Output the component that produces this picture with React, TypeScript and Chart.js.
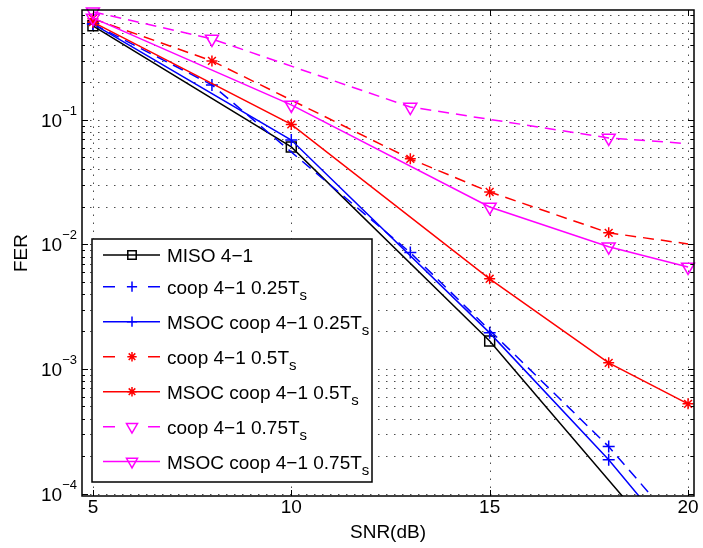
import React, { useEffect, useRef } from 'react';
import { Chart, registerables } from 'chart.js';

Chart.register(...registerables);

// ---------- data ----------
const xTickValues = [5, 10, 15, 20];
const yDecadeValues = [1e-4, 1e-3, 1e-2, 1e-1];
const yDecadeExponents = ['\u22124', '\u22123', '\u22122', '\u22121'];
const xAxisTitle = 'SNR(dB)';
const yAxisTitle = 'FER';

const misoX = [5, 10, 15, 20];
const misoY = [0.57, 0.0607, 0.00168, 2.3e-5];
const misoMarkers = [true, true, true, true];

const coop25X = [5, 8, 13, 18, 20];
const coop25Y = [0.59, 0.191, 0.0086, 2.38e-4, 4.4e-5];
const coop25Markers = [true, true, true, true, false];

const msoc25X = [5, 10, 15, 18, 20];
const msoc25Y = [0.59, 0.069, 0.00195, 1.87e-4, 3.2e-5];
const msoc25Markers = [true, true, true, true, true];

const coop50X = [5, 8, 13, 15, 18, 20];
const coop50Y = [0.65, 0.298, 0.0487, 0.0264, 0.0124, 0.0101];
const coop50Markers = [true, true, true, true, true, false];

const msoc50X = [5, 10, 15, 18, 20];
const msoc50Y = [0.61, 0.092, 0.0053, 0.00112, 0.000525];
const msoc50Markers = [true, true, true, true, true];

const coop75X = [5, 8, 13, 18, 20];
const coop75Y = [0.74, 0.447, 0.127, 0.0717, 0.0645];
const coop75Markers = [true, true, true, true, false];

const msoc75X = [5, 10, 15, 18, 20];
const msoc75Y = [0.66, 0.132, 0.02, 0.0096, 0.0066];
const msoc75Markers = [true, true, true, true, true];

const legendMain = [
  'MISO 4\u22121',
  'coop 4\u22121 0.25T',
  'MSOC coop 4\u22121 0.25T',
  'coop 4\u22121 0.5T',
  'MSOC coop 4\u22121 0.5T',
  'coop 4\u22121 0.75T',
  'MSOC coop 4\u22121 0.75T',
];
const legendSub = ['', 's', 's', 's', 's', 's', 's'];

// ---------- styles ----------
const FONT = '"Liberation Sans", Arial, Helvetica, sans-serif';
const BLACK = '#000000';
const BLUE = '#0000ff';
const RED = '#ff0000';
const MAGENTA = '#ff00ff';

type Spec = { color: string; dashed: boolean; style: string; radius: number };
const specs: Spec[] = [
  { color: BLACK, dashed: false, style: 'rect', radius: 7 },
  { color: BLUE, dashed: true, style: 'cross', radius: 6 },
  { color: BLUE, dashed: false, style: 'cross', radius: 6 },
  { color: RED, dashed: true, style: 'star', radius: 5.5 },
  { color: RED, dashed: false, style: 'star', radius: 5.5 },
  { color: MAGENTA, dashed: true, style: 'triangle', radius: 7.5 },
  { color: MAGENTA, dashed: false, style: 'triangle', radius: 7.5 },
];

const seriesX = [misoX, coop25X, msoc25X, coop50X, msoc50X, coop75X, msoc75X];
const seriesY = [misoY, coop25Y, msoc25Y, coop50Y, msoc50Y, coop75Y, msoc75Y];
const seriesMarkers = [misoMarkers, coop25Markers, msoc25Markers, coop50Markers, msoc50Markers, coop75Markers, msoc75Markers];

function buildGridValues(min: number, max: number) {
  const out: number[] = [];
  for (let k = -5; k <= 0; k++) {
    for (let m = 1; m <= 9; m++) {
      const v = m * Math.pow(10, k);
      if (v >= min && v <= max) out.push(v);
    }
  }
  return out;
}

function drawMarker(ctx: CanvasRenderingContext2D, style: string, x: number, y: number, r: number, color: string) {
  ctx.save();
  ctx.setLineDash([]);
  ctx.strokeStyle = color;
  ctx.lineWidth = 1.5;
  ctx.beginPath();
  if (style === 'rect') {
    const s = r * Math.SQRT1_2;
    ctx.rect(x - s, y - s, 2 * s, 2 * s);
  } else if (style === 'cross') {
    ctx.moveTo(x - r, y); ctx.lineTo(x + r, y);
    ctx.moveTo(x, y - r); ctx.lineTo(x, y + r);
  } else if (style === 'star') {
    ctx.moveTo(x - r, y); ctx.lineTo(x + r, y);
    ctx.moveTo(x, y - r); ctx.lineTo(x, y + r);
    const d = r * Math.SQRT1_2;
    ctx.moveTo(x - d, y - d); ctx.lineTo(x + d, y + d);
    ctx.moveTo(x - d, y + d); ctx.lineTo(x + d, y - d);
  } else if (style === 'triangle') {
    let rad = Math.PI;
    ctx.moveTo(x + Math.sin(rad) * r, y - Math.cos(rad) * r);
    rad += (2 * Math.PI) / 3;
    ctx.lineTo(x + Math.sin(rad) * r, y - Math.cos(rad) * r);
    rad += (2 * Math.PI) / 3;
    ctx.lineTo(x + Math.sin(rad) * r, y - Math.cos(rad) * r);
    ctx.closePath();
  }
  ctx.stroke();
  ctx.restore();
}

const X_MIN = 4.725;
const X_MAX = 20.15;
const Y_MIN = 9.55e-5;
const Y_MAX = 0.7635;

const decorPlugin = {
  id: 'matlabDecor',
  beforeDatasetsDraw(chart: any) {
    const { ctx, chartArea: a, scales } = chart;
    const xs = scales.x;
    const ys = scales.y;
    ctx.save();
    ctx.lineWidth = 1;
    ctx.strokeStyle = 'rgba(0,0,0,0.7)';
    ctx.setLineDash([1.5, 6.5]);
    for (const v of buildGridValues(Y_MIN, Y_MAX)) {
      const py = Math.round(ys.getPixelForValue(v)) + 0.5;
      ctx.beginPath();
      ctx.moveTo(a.left, py);
      ctx.lineTo(a.right, py);
      ctx.stroke();
    }
    for (const v of xTickValues) {
      const px = Math.round(xs.getPixelForValue(v)) + 0.5;
      ctx.beginPath();
      ctx.moveTo(px, a.bottom);
      ctx.lineTo(px, a.top);
      ctx.stroke();
    }
    ctx.restore();
  },
  afterDraw(chart: any) {
    const { ctx, chartArea: a, scales } = chart;
    const xs = scales.x;
    const ys = scales.y;
    ctx.save();
    ctx.setLineDash([]);
    ctx.strokeStyle = '#000';
    ctx.lineWidth = 1;
    // y ticks
    for (const v of buildGridValues(Y_MIN, Y_MAX)) {
      const py = Math.round(ys.getPixelForValue(v)) + 0.5;
      const lg = Math.log10(v);
      const major = Math.abs(lg - Math.round(lg)) < 1e-9;
      const len = major ? 6 : 3;
      ctx.beginPath();
      ctx.moveTo(a.left, py); ctx.lineTo(a.left + len, py);
      ctx.moveTo(a.right, py); ctx.lineTo(a.right - len, py);
      ctx.stroke();
    }
    // x ticks
    for (const v of xTickValues) {
      const px = Math.round(xs.getPixelForValue(v)) + 0.5;
      ctx.beginPath();
      ctx.moveTo(px, a.bottom); ctx.lineTo(px, a.bottom - 6);
      ctx.moveTo(px, a.top); ctx.lineTo(px, a.top + 6);
      ctx.stroke();
    }
    // box
    ctx.lineWidth = 1.5;
    ctx.strokeRect(a.left, a.top, a.right - a.left, a.bottom - a.top);

    // x tick labels
    ctx.fillStyle = '#000';
    ctx.font = `19px ${FONT}`;
    ctx.textAlign = 'center';
    ctx.textBaseline = 'middle';
    for (const v of xTickValues) {
      ctx.fillText(String(v), xs.getPixelForValue(v), 508);
    }
    // y tick labels
    yDecadeValues.forEach((v, i) => {
      const py = ys.getPixelForValue(v);
      const right = 77;
      ctx.font = `13px ${FONT}`;
      const ew = ctx.measureText(yDecadeExponents[i]).width;
      ctx.textAlign = 'left';
      ctx.textBaseline = 'alphabetic';
      ctx.fillText(yDecadeExponents[i], right - ew, py - 5);
      ctx.font = `19px ${FONT}`;
      ctx.textAlign = 'right';
      ctx.fillText('10', right - ew, py + 7);
    });
    // axis titles
    ctx.font = `19px ${FONT}`;
    ctx.textAlign = 'center';
    ctx.textBaseline = 'middle';
    ctx.fillText(xAxisTitle, (a.left + a.right) / 2, 533);
    ctx.save();
    ctx.translate(22, (a.top + a.bottom) / 2);
    ctx.rotate(-Math.PI / 2);
    ctx.fillText(yAxisTitle, 0, 0);
    ctx.restore();

    // legend
    const lx = 92, ly = 239, lw = 280, lh = 243;
    ctx.fillStyle = '#fff';
    ctx.fillRect(lx, ly, lw, lh);
    ctx.lineWidth = 1.5;
    ctx.strokeStyle = '#000';
    ctx.strokeRect(lx, ly, lw, lh);
    const rows = [255, 286.7, 321.7, 356.7, 391.7, 426.7, 461.5];
    specs.forEach((s, i) => {
      const ry = rows[i];
      ctx.save();
      ctx.strokeStyle = s.color;
      ctx.lineWidth = 1.5;
      ctx.setLineDash(s.dashed ? [12, 33] : []);
      ctx.beginPath();
      ctx.moveTo(103, ry);
      ctx.lineTo(160, ry);
      ctx.stroke();
      ctx.restore();
      drawMarker(ctx, s.style, 132, ry, s.radius * 0.85, s.color);
      ctx.fillStyle = '#000';
      ctx.font = `19px ${FONT}`;
      ctx.textAlign = 'left';
      ctx.textBaseline = 'alphabetic';
      ctx.fillText(legendMain[i], 167, ry + 7);
      if (legendSub[i]) {
        const w = ctx.measureText(legendMain[i]).width;
        ctx.font = `15px ${FONT}`;
        ctx.fillText(legendSub[i], 167 + w, ry + 13.5);
      }
    });
    ctx.restore();
  },
};

export default function App() {
  const ref = useRef<HTMLCanvasElement | null>(null);
  useEffect(() => {
    if (!ref.current) return;
    const datasets = specs.map((s, i) => ({
      label: legendMain[i] + legendSub[i],
      data: seriesX[i].map((x, j) => ({ x, y: seriesY[i][j] })),
      borderColor: s.color,
      backgroundColor: s.color,
      borderWidth: 1.5,
      borderDash: s.dashed ? [11, 7] : [],
      pointStyle: s.style,
      pointRadius: seriesMarkers[i].map((m) => (m ? s.radius : 0)),
      pointHoverRadius: 0,
      pointRotation: s.style === 'triangle' ? 180 : 0,
      pointBorderColor: s.color,
      pointBackgroundColor: 'rgba(0,0,0,0)',
      pointBorderWidth: 1.5,
      tension: 0,
      fill: false,
      order: 7 - i,
      clip: { left: 12, top: 12, right: 12, bottom: 0 },
    }));
    const chart = new Chart(ref.current, {
      type: 'line',
      data: { datasets },
      options: {
        responsive: false,
        animation: false,
        devicePixelRatio: 1,
        layout: { padding: { left: 82, right: 5, top: 10, bottom: 52 } },
        plugins: { legend: { display: false }, tooltip: { enabled: false } },
        events: [],
        scales: {
          x: { type: 'linear', min: X_MIN, max: X_MAX, display: false },
          y: { type: 'logarithmic', min: Y_MIN, max: Y_MAX, display: false },
        },
      },
      plugins: [decorPlugin],
    } as any);
    return () => chart.destroy();
  }, []);
  return (
    <div style={{ position: 'fixed', left: 0, top: 0, width: 703, height: 548, background: '#fff' }}>
      <canvas ref={ref} width={703} height={548} style={{ width: 703, height: 548 }} />
    </div>
  );
}
